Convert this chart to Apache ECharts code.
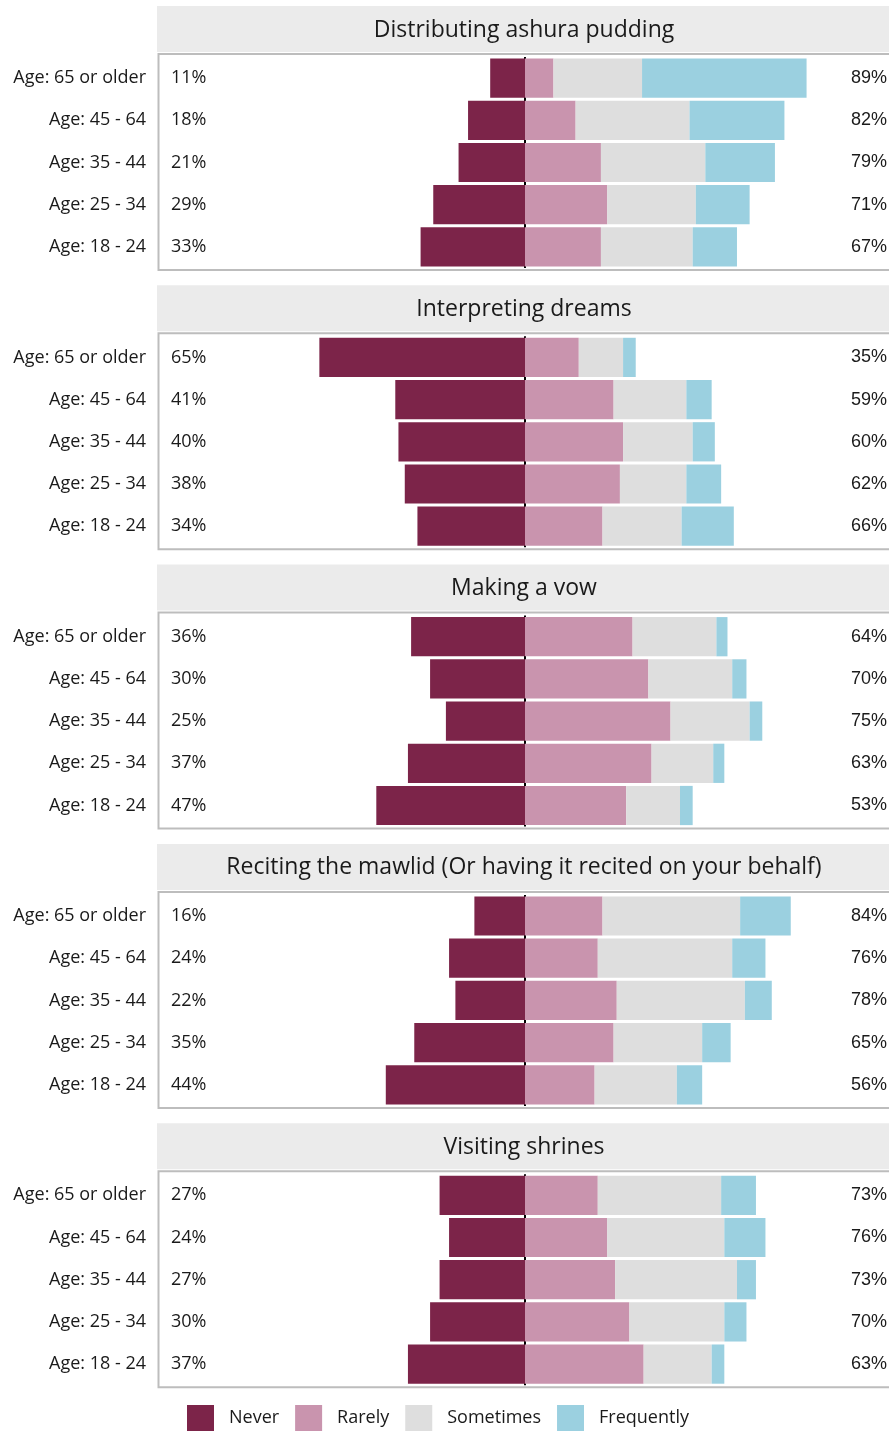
<!DOCTYPE html>
<html>
<head>
<meta charset="utf-8">
<script src="https://cdn.jsdelivr.net/npm/echarts@6/dist/echarts.min.js"></script>
<style>
  html, body { margin: 0; padding: 0; background: #fff; }
  #chart { width: 889px; height: 1432px; }
</style>
</head>
<body>
<div id="chart"></div>
<script>
// age groups, top to bottom
const ages = ['Age: 65 or older', 'Age: 45 - 64', 'Age: 35 - 44', 'Age: 25 - 34', 'Age: 18 - 24'];

const activities = [
  'Distributing ashura pudding',
  'Interpreting dreams',
  'Making a vow',
  'Reciting the mawlid (Or having it recited on your behalf)',
  'Visiting shrines'
];

const never = [
  [11, 18, 21, 29, 33],
  [65, 41, 40, 38, 34],
  [36, 30, 25, 37, 47],
  [16, 24, 22, 35, 44],
  [27, 24, 27, 30, 37]
];
const rarely = [
  [9, 16, 24, 26, 24],
  [17, 28, 31, 30, 24.5],
  [34, 39, 46, 40, 32],
  [24.5, 23, 29, 28, 22],
  [23, 26, 28.5, 33, 37.5]
];
const sometimes = [
  [28, 36, 33, 28, 29],
  [14, 23, 22, 21, 25],
  [26.5, 26.5, 25, 19.5, 17],
  [43.5, 42.5, 40.5, 28, 26],
  [39, 37, 38.5, 30, 21.5]
];
const frequently = [
  [52, 30, 22, 17, 14],
  [4, 8, 7, 11, 16.5],
  [3.5, 4.5, 4, 3.5, 4],
  [16, 10.5, 8.5, 9, 8],
  [11, 13, 6, 7, 4]
];

const colors = { Never: '#7c2449', Rarely: '#c994ae', Sometimes: '#dedede', Frequently: '#9bd0e0' };

function drawChart() {
  let myChart = echarts.init(document.getElementById('chart'));

  const step = 279.3;
  const font = '"Open Sans", "Noto Sans", sans-serif';
  const arial = '"Liberation Sans", Arial, sans-serif';

  let grid = [], xAxis = [], yAxis = [], series = [], graphic = [];

  activities.forEach(function (name, k) {
    let off = k * step;
    grid.push({
      left: 158, width: 734, top: 57 + off, height: 211,
      outerBoundsMode: 'none', containLabel: false
    });
    // only the split line at 0 is drawn (the centre line)
    xAxis.push({
      gridIndex: k, type: 'value', min: -116, max: 116, interval: 116,
      axisLine: { show: false }, axisTick: { show: false }, axisLabel: { show: false },
      splitLine: { show: true, showMinLine: false, showMaxLine: false,
        lineStyle: { color: '#000', width: 2 } }
    });
    let totals = rarely[k].map(function (r, i) {
      return Math.round(r + sometimes[k][i] + frequently[k][i]) + '%';
    });
    let base = { gridIndex: k, type: 'category', inverse: true,
      axisLine: { show: false }, axisTick: { show: false }, splitLine: { show: false } };
    // age labels
    yAxis.push(Object.assign({}, base, {
      data: ages, position: 'left',
      axisLabel: { margin: 12, fontSize: 18, color: '#1a1a1a', fontFamily: font }
    }));
    // never %
    yAxis.push(Object.assign({}, base, {
      data: never[k].map(function (v) { return v + '%'; }), position: 'left',
      axisLabel: { inside: true, margin: 13, fontSize: 18, color: '#1a1a1a', fontFamily: font }
    }));
    // rest %
    yAxis.push(Object.assign({}, base, {
      data: totals, position: 'right',
      axisLabel: { inside: true, margin: 5, fontSize: 18, color: '#1a1a1a', fontFamily: arial }
    }));

    let yi = k * 3;
    let add = function (sname, vals) {
      series.push({
        name: sname, type: 'bar', stack: 'p' + k,
        xAxisIndex: k, yAxisIndex: yi,
        barCategoryGap: '7%',
        itemStyle: { color: colors[sname] },
        data: vals
      });
    };
    add('Never', never[k].map(function (v) { return -v; }));
    add('Rarely', rarely[k]);
    add('Sometimes', sometimes[k]);
    add('Frequently', frequently[k]);

    // panel strip and frame
    graphic.push({
      type: 'rect', left: 157, top: 6 + off, z: 10,
      shape: { width: 740, height: 46 }, style: { fill: '#ebebeb' }
    });
    graphic.push({
      type: 'text', x: 524, y: 30 + off, z: 11,
      style: { text: name, fontSize: 23, fill: '#1a1a1a', fontFamily: font,
        textAlign: 'center', textVerticalAlign: 'middle' }
    });
    graphic.push({
      type: 'polyline', z: 12, silent: true,
      shape: { points: [[892, 54 + off], [158.5, 54 + off], [158.5, 270 + off], [892, 270 + off]] },
      style: { stroke: '#bdbdbd', lineWidth: 2, fill: null }
    });
  });

  let option = {
    animation: false,
    grid: grid,
    xAxis: xAxis,
    yAxis: yAxis,
    series: series,
    graphic: graphic,
    legend: {
      data: ['Never', 'Rarely', 'Sometimes', 'Frequently'],
      left: 182, top: 1400,
      icon: 'rect', itemWidth: 27, itemHeight: 26, itemGap: 16,
      textStyle: { fontSize: 18, color: '#1a1a1a', fontFamily: font, padding: [0, 0, 0, 10] }
    }
  };

  option && myChart.setOption(option);
  return myChart;
}

drawChart();
</script>
</body>
</html>
